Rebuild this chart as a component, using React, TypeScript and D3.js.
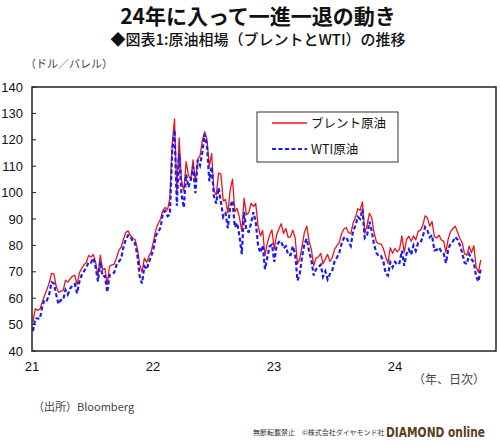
import React from "react";
import * as d3 from "d3";

// ---- data (weekly readings, Monday of each week) ----
const brent2021 = [
  51.1, 56.0, 55.4, 55.9,
  58.5, 61.1, 63.3, 65.9,
  69.4, 69.2, 64.5, 62.2, 62.7,
  62.9, 66.8, 66.1, 67.3,
  68.3, 68.7, 65.1, 69.6, 71.3,
  72.7, 73.5, 76.2, 75.6,
  76.6, 73.6, 68.6, 76.3,
  70.7, 71.3, 65.2, 72.1, 72.6,
  72.9, 75.3, 78.1, 79.3,
  82.4, 84.9, 85.5, 83.7,
  82.7, 82.2, 78.9, 72.7, 69.9,
  75.2, 73.5, 76.1, 77.8,
];
const brent2022 = [
  81.8, 86.1, 88.4, 90.0, 93.3,
  94.4, 93.5, 97.9, 118.1,
  127.9, 99.9, 120.7, 104.7,
  100.6, 111.7, 106.7, 104.9,
  112.4, 104.0, 112.6, 114.0, 119.7,
  123.1, 120.0, 110.0, 114.8,
  100.7, 99.1, 107.4, 107.0,
  96.8, 97.4, 92.3, 100.9, 105.1,
  92.8, 94.0, 90.5, 85.3,
  97.9, 91.6, 92.4, 96.0, 94.8,
  95.9, 87.6, 83.6, 85.6,
  76.1, 80.9, 83.9, 85.9,
];
const brent2023 = [
  78.6, 84.0, 86.2, 88.2, 84.5,
  86.4, 83.0, 83.2, 85.8,
  82.8, 73.0, 74.9, 79.8,
  85.0, 87.3, 81.7, 78.4,
  72.3, 75.2, 75.6, 77.0, 73.0,
  74.8, 76.6, 73.9, 75.4,
  78.5, 79.9, 81.1, 84.4, 86.2,
  86.8, 84.8, 84.5, 88.5,
  90.6, 93.9, 93.3, 96.5,
  84.6, 87.7, 92.2, 90.5, 84.9,
  81.4, 80.6, 80.6, 78.9,
  75.8, 73.2, 79.1, 77.0,
];
const brent2024 = [
  78.8, 77.6, 78.6, 83.6, 77.3,
  82.2, 83.5, 81.6, 83.6,
  82.1, 85.3, 85.8, 87.5,
  91.2, 90.5, 87.3, 89.0, 83.4,
  82.8, 83.9, 82.1, 81.6,
  77.5, 82.6, 85.2, 86.4,
  87.3, 85.0, 82.6, 81.1, 76.8,
  76.3, 79.7, 77.2, 79.9,
  71.8, 69.8, 74.5,
];

const wti2021 = [
  47.6, 52.4, 52.3, 52.2,
  56.9, 59.5, 59.2, 61.5,
  66.1, 65.6, 61.4, 57.8, 59.3,
  59.3, 63.1, 61.4, 63.6,
  64.9, 65.4, 61.9, 66.3, 68.8,
  70.3, 71.6, 73.7, 73.5,
  75.2, 71.7, 66.4, 73.9,
  68.3, 68.4, 62.3, 68.7, 69.3,
  69.7, 72.6, 73.9, 75.0,
  79.4, 82.3, 83.8, 83.6,
  81.3, 80.8, 76.1, 68.2, 65.6,
  72.1, 70.9, 73.8, 76.0,
];
const wti2022 = [
  78.9, 83.8, 85.1, 86.8, 92.3,
  93.1, 91.1, 91.6, 115.7,
  123.7, 95.0, 114.9, 99.3,
  94.3, 106.9, 102.1, 104.7,
  109.8, 99.8, 112.4, 110.3, 115.3,
  122.1, 117.6, 104.3, 109.8,
  98.5, 95.8, 101.8, 96.4,
  90.7, 92.1, 86.5, 94.9, 97.0,
  86.9, 88.5, 83.5, 76.7,
  92.6, 85.6, 85.1, 88.4, 92.6,
  89.0, 80.1, 77.2, 79.9,
  71.0, 75.4, 79.6, 80.3,
];
const wti2023 = [
  73.8, 79.9, 81.3, 81.6, 78.9,
  79.7, 76.3, 76.3, 79.7,
  76.7, 66.7, 69.3, 75.7,
  80.7, 82.5, 77.9, 74.3,
  68.6, 71.0, 71.7, 72.7, 68.1,
  70.2, 67.1, 69.2, 70.6,
  73.9, 75.4, 77.1, 80.6, 82.8,
  83.2, 81.2, 79.8, 85.6,
  87.5, 90.8, 90.0, 93.7,
  82.8, 83.9, 89.0, 85.5, 80.4,
  77.2, 75.9, 76.0, 74.1,
  69.4, 68.6, 73.6, 71.7,
];
const wti2024 = [
  73.8, 72.7, 73.4, 78.0, 72.3,
  76.8, 78.5, 76.5, 80.0,
  78.0, 81.0, 81.1, 83.2,
  86.9, 85.7, 83.1, 83.9, 78.1,
  78.3, 79.2, 77.7, 77.0,
  73.3, 78.6, 80.7, 81.5,
  83.2, 82.2, 80.1, 77.2, 73.5,
  72.9, 76.7, 74.8, 73.6,
  68.2, 66.3, 71.2,
];

const yTicks = [40, 50, 60, 70, 80, 90, 100, 110, 120, 130, 140];
const xTickYears = [2021, 2022, 2023, 2024];
const xTickLabels = ["21", "22", "23", "24"];
const seriesNames = ["ブレント原油", "WTI原油"];

const W = 500;
const H = 446;
const JP = "'Noto Sans CJK JP', 'Noto Sans', sans-serif";
const NUM = "'Liberation Sans', Arial, sans-serif";

export default function App() {
  const left = 32, right = 496, top = 87, bottom = 351;
  const weeks = d3.timeMonday.range(new Date(2021, 0, 4), new Date(2024, 8, 17));
  const brent = [...brent2021, ...brent2022, ...brent2023, ...brent2024];
  const wti = [...wti2021, ...wti2022, ...wti2023, ...wti2024];

  const x = d3.scaleTime().domain([new Date(2021, 0, 1), new Date(2024, 10, 1)]).range([left, right]);
  const y = d3.scaleLinear().domain([40, 140]).range([bottom, top]);

  const mk = (vals: number[]) =>
    d3.line<number>()
      .x((_, i) => x(weeks[Math.min(i, weeks.length - 1)]))
      .y((v) => y(v))(vals.slice(0, weeks.length)) || "";

  const red = "#e8141c";
  const blue = "#1c1cf0";

  return (
    <svg width={W} height={H} style={{ display: "block", position: "absolute", left: 0, top: 0, background: "#fff" }}>
      <rect x={0} y={0} width={W} height={H} fill="#fff" />
      <text x={258} y={24} textAnchor="middle" fontFamily={JP} fontWeight={700} fontSize={21} fill="#111">
        24年に入って一進一退の動き
      </text>
      <text x={258} y={45} textAnchor="middle" fontFamily={JP} fontWeight={500} fontSize={15} fill="#111">
        ◆図表1:原油相場（ブレントとWTI）の推移
      </text>
      <text x={25} y={68} fontFamily={JP} fontSize={11} fill="#444">
        （ドル／バレル）
      </text>

      {yTicks.map((t) => (
        <g key={t}>
          <text x={23} y={y(t)} dy="0.36em" textAnchor="end" fontFamily={NUM} fontSize={13} fill="#111">
            {t}
          </text>
          <line x1={left} x2={left + 4} y1={y(t)} y2={y(t)} stroke="#222" strokeWidth={1} />
        </g>
      ))}
      {xTickYears.map((yr, i) => (
        <text key={yr} x={x(new Date(yr, 0, 1))} y={371} textAnchor="middle" fontFamily={NUM} fontSize={13} fill="#111">
          {xTickLabels[i]}
        </text>
      ))}

      <path d={mk(brent)} fill="none" stroke={red} strokeWidth={1.3} strokeLinejoin="round" />
      <path d={mk(wti)} fill="none" stroke={blue} strokeWidth={2.2} strokeDasharray="4 2.5" />

      <rect x={left} y={top} width={right - left} height={bottom - top} fill="none" stroke="#222" strokeWidth={1.5} />

      <rect x={257} y={112} width={141} height={50} fill="#fff" stroke="#333" strokeWidth={1} />
      <line x1={272} x2={307} y1={123} y2={123} stroke={red} strokeWidth={1.3} />
      <text x={311} y={123} dy="0.36em" fontFamily={JP} fontSize={12.5} fill="#111">{seriesNames[0]}</text>
      <line x1={272} x2={307} y1={149} y2={149} stroke={blue} strokeWidth={2.2} strokeDasharray="4 2.5" />
      <text x={311} y={149} dy="0.36em" fontFamily={JP} fontSize={12.5} fill="#111">{seriesNames[1]}</text>

      <text x={485} y={384} textAnchor="end" fontFamily={JP} fontSize={12} fill="#444">（年、日次）</text>
      <text x={33} y={411} fontFamily={JP} fontSize={11} fill="#444">（出所）Bloomberg</text>

      <text x={253} y={435} fontFamily={JP} fontSize={7} fill="#333">無断転載禁止　©株式会社ダイヤモンド社</text>
      <text x={386} y={437} fontFamily="'DejaVu Sans Condensed', 'Liberation Sans', sans-serif" fontWeight={700} fontSize={13.5} fill="#5a4020" textLength={99} lengthAdjust="spacingAndGlyphs">
        DIAMOND online
      </text>
    </svg>
  );
}
